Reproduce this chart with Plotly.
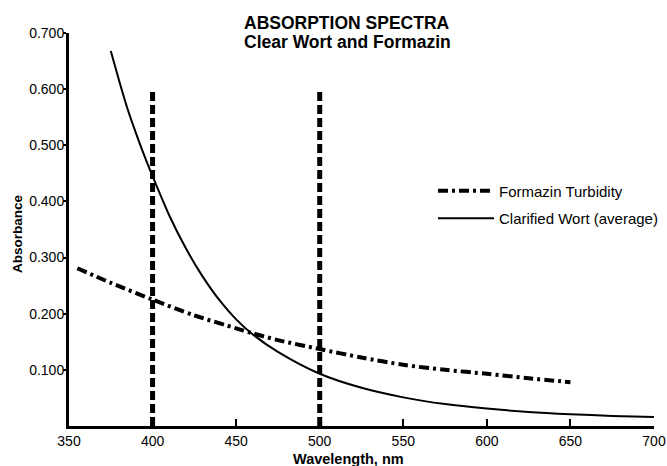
import plotly.graph_objects as go

# Data
wort_x = [375, 380, 385, 390, 395, 400, 410, 420, 430, 440, 450, 460, 475,
          500, 525, 550, 575, 600, 625, 650, 675, 700]
wort_y = [0.668, 0.615, 0.565, 0.522, 0.482, 0.445, 0.375, 0.316, 0.266, 0.224,
          0.190, 0.163, 0.132, 0.093, 0.068, 0.051, 0.039, 0.031, 0.025, 0.021,
          0.018, 0.016]

formazin_x = [355, 375, 400, 425, 450, 460, 475, 500, 525, 550, 575, 600, 625, 650]
formazin_y = [0.281, 0.255, 0.225, 0.197, 0.174, 0.165, 0.153, 0.137, 0.122,
              0.109, 0.100, 0.093, 0.085, 0.078]

marker_wavelengths = [400, 500]
marker_range = [0.0, 0.6]

x_ticks = [350, 400, 450, 500, 550, 600, 650, 700]
y_ticks = [0.1, 0.2, 0.3, 0.4, 0.5, 0.6, 0.7]
y_ticktext = ["0.100", "0.200", "0.300", "0.400", "0.500", "0.600", "0.700"]

FONT = "Liberation Sans, Arial, Helvetica, sans-serif"

fig = go.Figure()

for wl in marker_wavelengths:
    fig.add_trace(go.Scatter(
        x=[wl, wl], y=marker_range, mode="lines",
        line=dict(color="black", width=5, dash="9px,4px"),
        showlegend=False, hoverinfo="skip"))

fig.add_trace(go.Scatter(
    x=formazin_x, y=formazin_y, mode="lines", name="Formazin Turbidity",
    line=dict(color="black", width=4, dash="10px,4px,3px,4px", shape="spline",
              smoothing=0.8),
    legendgroup="a"))

fig.add_trace(go.Scatter(
    x=wort_x, y=wort_y, mode="lines", name="Clarified Wort (average)",
    line=dict(color="black", width=2, shape="spline", smoothing=0.8),
    legendgroup="b"))

fig.update_layout(
    width=667, height=466,
    margin=dict(l=69, r=13, t=33, b=40, autoexpand=False),
    paper_bgcolor="white", plot_bgcolor="white",
    font=dict(family=FONT, color="black", size=14),
    showlegend=True,
    legend=dict(x=(433 - 69) / 585, y=0.64, xanchor="left", yanchor="top",
                bgcolor="rgba(0,0,0,0)", font=dict(size=15, family=FONT),
                itemwidth=56, traceorder="grouped", tracegroupgap=5),
    xaxis=dict(range=[350, 700], tickvals=x_ticks, ticks="inside", ticklen=7,
               tickwidth=2, tickcolor="black", showline=True, linewidth=3,
               linecolor="black", showgrid=False, zeroline=False,
               automargin=False,
               tickfont=dict(size=14, family=FONT), ticklabelstandoff=0),
    yaxis=dict(range=[0, 0.7], tickvals=y_ticks, ticktext=y_ticktext,
               ticks="outside", ticklen=3, tickwidth=2, tickcolor="black",
               showline=True, linewidth=3, linecolor="black", showgrid=False,
               zeroline=False, automargin=False, ticklabelstandoff=-4,
               tickfont=dict(size=14, family=FONT)),
    annotations=[
        dict(text="<b>ABSORPTION SPECTRA</b>",
             xref="paper", yref="paper", x=(347 - 69) / 585, y=(426 - 23) / 393,
             xanchor="center", yanchor="middle", showarrow=False,
             font=dict(size=17.5, family=FONT)),
        dict(text="<b>Clear Wort and Formazin</b>",
             xref="paper", yref="paper", x=(347 - 69) / 585, y=(426 - 42) / 393,
             xanchor="center", yanchor="middle", showarrow=False,
             font=dict(size=17.5, family=FONT)),
        dict(text="<b>Wavelength, nm</b>", xref="paper", yref="paper",
             x=(348 - 69) / 585, y=(426 - 459) / 393, xanchor="center",
             yanchor="middle", showarrow=False, font=dict(size=14.5, family=FONT)),
        dict(text="<b>Absorbance</b>", xref="paper", yref="paper",
             x=(17 - 69) / 585, y=(426 - 234) / 393, xanchor="center",
             yanchor="middle", textangle=-90, showarrow=False,
             font=dict(size=13.5, family=FONT)),
    ],
)

fig.write_html("out.html")
